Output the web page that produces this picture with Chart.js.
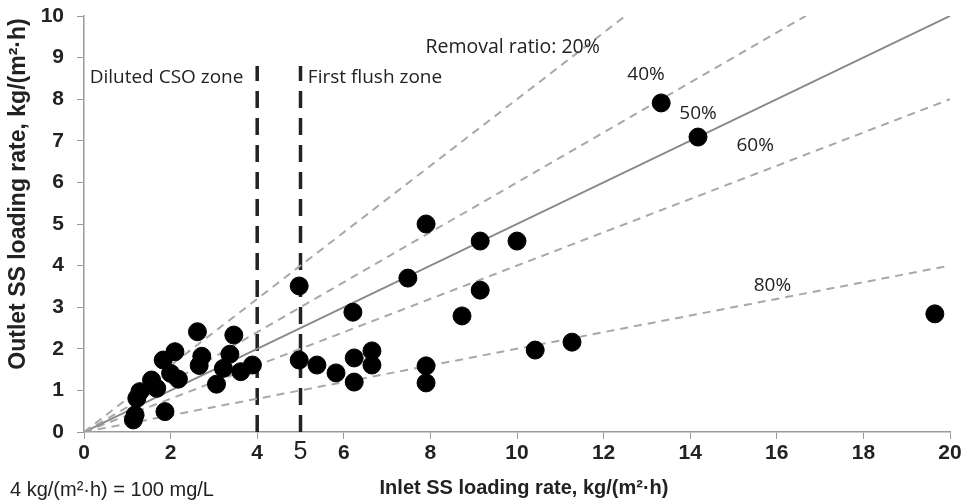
<!DOCTYPE html>
<html>
<head>
<meta charset="utf-8">
<script src="https://cdn.jsdelivr.net/npm/chart.js@4"></script>
<style>
    html, body { margin: 0; padding: 0; background: #fff; }
    #wrap { width: 965px; height: 504px; }
</style>
</head>
<body>
<div id="wrap"><canvas id="ss-chart"></canvas></div>
<script>
    /* globals Chart */
    // measured events: inlet vs outlet SS loading rate, kg/(m2.h)
    const inletRate = [
        1.14, 1.18, 1.22, 1.29, 1.56, 1.68, 1.83, 1.87, 2.0, 2.18, 2.1, 2.62, 2.72, 2.66,
        3.06, 3.22, 3.37, 3.46, 3.62, 3.89,
        4.97, 4.97, 5.38, 5.82, 6.21, 6.24, 6.24, 6.65, 6.65, 7.48, 7.9, 7.9, 7.9,
        8.73, 9.15, 9.15, 10.0, 10.42, 11.27, 13.33, 14.18, 19.65,
    ];
    const outletRate = [
        0.29, 0.41, 0.81, 0.97, 1.25, 1.05, 1.73, 0.49, 1.41, 1.27, 1.93, 2.41, 1.82, 1.6,
        1.15, 1.53, 1.87, 2.33, 1.45, 1.61,
        3.51, 1.73, 1.61, 1.42, 2.88, 1.78, 1.2, 1.95, 1.61, 3.7, 5.0, 1.59, 1.18,
        2.79, 4.59, 3.41, 4.59, 1.97, 2.16, 7.91, 7.09, 2.84,
    ];

    // removal ratio reference lines (outlet = (1 - ratio) * inlet)
    const removalRatios = [20, 40, 50, 60, 80];
    const ratioLabels = ['Removal ratio: 20%', '40%', '50%', '60%', '80%'];
    const ratioLabelX = [9.9, 12.98, 14.18, 15.5, 15.9];
    const ratioLabelY = [9.25, 8.58, 7.65, 6.88, 3.53];

    // zone boundaries on the inlet axis
    const zoneLines = [4, 5];
    const zoneTop = 8.8;
    const zoneLabels = ['Diluted CSO zone', 'First flush zone'];
    const zoneLabelX = [0.13, 5.17];
    const zoneLabelY = [8.53, 8.53];

    const xTicks = [0, 2, 4, 6, 8, 10, 12, 14, 16, 18, 20];
    const yTicks = [0, 1, 2, 3, 4, 5, 6, 7, 8, 9, 10];

    (function () {
        const BODY = "'Open Sans', 'Noto Sans', sans-serif";
        const SANS = "'Liberation Sans', Arial, sans-serif";
        const NARROW = "'Liberation Sans Narrow', 'Liberation Sans', sans-serif";

        const textPlugin = {
            id: 'textPlugin',
            afterDraw(chart) {
                const ctx = chart.ctx;
                const xs = chart.scales.x;
                const ys = chart.scales.y;
                ctx.save();
                ctx.fillStyle = '#222';
                ctx.textBaseline = 'middle';

                ctx.font = '19px ' + BODY;
                ctx.textAlign = 'left';
                zoneLabels.forEach((t, i) => {
                    ctx.fillText(t, xs.getPixelForValue(zoneLabelX[i]), ys.getPixelForValue(zoneLabelY[i]));
                });
                ctx.textAlign = 'center';
                ratioLabels.forEach((t, i) => {
                    ctx.font = (i === 0 ? '19.5px ' : '19px ') + BODY;
                    ctx.fillText(t, xs.getPixelForValue(ratioLabelX[i]), ys.getPixelForValue(ratioLabelY[i]));
                });

                // extra "5" label under the first flush boundary
                ctx.font = '25px ' + NARROW;
                ctx.fillText('5', xs.getPixelForValue(5), 452);

                // axis titles
                ctx.font = 'bold 20px ' + SANS;
                ctx.fillText('Inlet SS loading rate, kg/(m²·h)', 524, 488);
                ctx.save();
                ctx.translate(19, 194);
                ctx.rotate(-Math.PI / 2);
                ctx.font = 'bold 23px ' + SANS;
                ctx.fillText('Outlet SS loading rate, kg/(m²·h)', 0, 0);
                ctx.restore();

                ctx.font = '20px ' + NARROW;
                ctx.textAlign = 'left';
                ctx.fillText('4 kg/(m²·h) = 100 mg/L', 10, 490);
                ctx.restore();
            },
        };

        main();

        function main() {
            const datasets = [buildPoints()]
                .concat(buildRatioLines())
                .concat(buildZoneLines());
            renderChart(datasets);
        }

        function buildPoints() {
            return {
                label: 'Events',
                data: inletRate.map((x, i) => ({ x: x, y: outletRate[i] })),
                backgroundColor: '#000',
                borderColor: '#000',
                pointRadius: 9,
                pointHoverRadius: 9,
                showLine: false,
            };
        }

        function buildRatioLines() {
            return removalRatios.map((ratio) => {
                const slope = 1 - ratio / 100;
                const endX = Math.min(20, 10 / slope);
                return {
                    label: ratio + '%',
                    data: [{ x: 0, y: 0 }, { x: endX, y: endX * slope }],
                    showLine: true,
                    pointRadius: 0,
                    borderColor: ratio === 50 ? '#888' : '#a8a8a8',
                    borderWidth: 2,
                    borderDash: ratio === 50 ? [] : [8, 6],
                };
            });
        }

        function buildZoneLines() {
            return zoneLines.map((x) => {
                return {
                    label: 'zone ' + x,
                    data: [{ x: x, y: 0 }, { x: x, y: zoneTop }],
                    showLine: true,
                    pointRadius: 0,
                    borderColor: '#222',
                    borderWidth: 3.5,
                    borderDash: [17, 10],
                };
            });
        }

        function renderChart(datasets) {
            const ctx = document.getElementById('ss-chart');
            const axisColor = '#9a9a9a';
            const tickFont = { family: NARROW, size: 21, weight: 'bold' };

            new Chart(ctx, {
                type: 'scatter',
                data: { datasets: datasets },
                plugins: [textPlugin],
                options: {
                    responsive: true,
                    maintainAspectRatio: false,
                    animation: false,
                    layout: { padding: { left: 0, right: 15, top: 16, bottom: 0 } },
                    plugins: {
                        legend: { display: false },
                        tooltip: { enabled: false },
                    },
                    scales: {
                        x: {
                            type: 'linear',
                            min: xTicks[0],
                            max: xTicks[xTicks.length - 1],
                            afterBuildTicks: (axis) => { axis.ticks = xTicks.map((v) => ({ value: v })); },
                            afterFit: (axis) => {
                                axis.height = 72;
                                axis.paddingLeft = 0;
                                axis.paddingRight = 0;
                            },
                            ticks: { color: '#222', font: tickFont, padding: 2, maxRotation: 0 },
                            grid: { drawOnChartArea: false, color: axisColor, tickLength: 7 },
                            border: { color: axisColor, width: 1.5 },
                        },
                        y: {
                            type: 'linear',
                            min: yTicks[0],
                            max: yTicks[yTicks.length - 1],
                            afterBuildTicks: (axis) => { axis.ticks = yTicks.map((v) => ({ value: v })); },
                            afterFit: (axis) => {
                                axis.width = 84;
                                axis.paddingTop = 0;
                                axis.paddingBottom = 0;
                            },
                            ticks: { color: '#222', font: tickFont, padding: 13 },
                            grid: { drawOnChartArea: false, color: axisColor, tickLength: 7 },
                            border: { color: axisColor, width: 1.5 },
                        },
                    },
                },
            });
        }
    })();
</script>
</body>
</html>
